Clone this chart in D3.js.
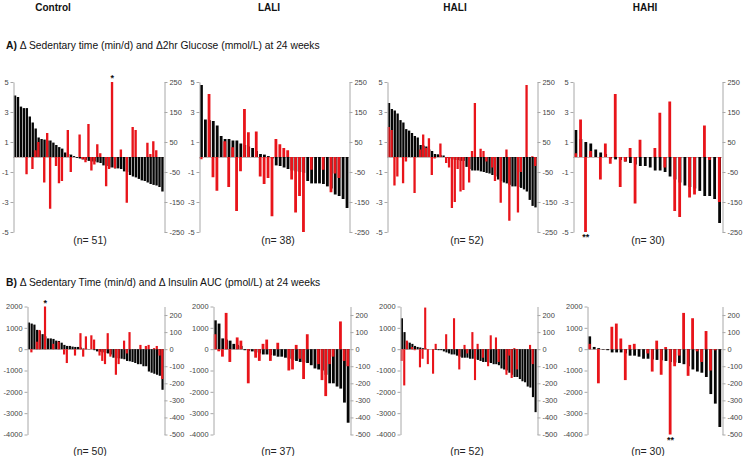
<!DOCTYPE html>
<html><head><meta charset="utf-8">
<script src="https://cdn.jsdelivr.net/npm/d3@7"></script>
<style>body{margin:0;background:#fff}svg{display:block}</style>
</head><body>
<svg id="c" width="745" height="456"></svg>
<script>
// ---------- DATA ----------
const groups = ["Control", "LALI", "HALI", "HAHI"];

// Row A: black = Δ sedentary time (min/d, right axis), red = Δ 2hr glucose (mmol/L, left axis)
const controlA_sedentary = [205,200,168,163,163,135,115,95,65,60,58,55,55,48,40,33,28,15,10,8,3,-3,-5,-8,-10,-13,-15,-15,-18,-20,-28,-30,-35,-35,-38,-38,-40,-48,-50,-60,-65,-68,-73,-78,-80,-85,-90,-93,-95,-100,-115];
const controlA_glucose = [0,0,0,0,-1.15,0,-0.8,0.45,1.0,0,-1.7,1.6,-3.45,0,-0.6,-1.75,-1.6,0,1.8,-1.0,0,0,1.5,-0.15,-0.35,2.2,-0.9,-0.5,0.85,0.25,0,-1.95,-0.8,5.0,-0.75,0,0.5,0,-3.05,0,2.0,1.8,0,0,0,0.95,0.2,1.05,0.45,0,0];
const laliA_sedentary = [240,125,123,120,105,70,60,60,55,55,45,40,35,30,20,10,8,3,-5,-28,-30,-35,-40,-45,-48,-50,-53,-80,-88,-88,-88,-90,-98,-105,-125,-130,-140,-170];
const laliA_glucose = [-0.15,0,4.2,-1.35,-2.25,0,1.05,-2.0,0.65,-3.6,-0.95,3.2,1.65,0,1.7,-1.3,-1.8,-1.4,-3.95,1.2,0.85,0.6,0.45,-1.5,-3.7,-2.6,-5.0,0,-0.85,0,0,-0.85,0,-2.35,-1.1,-1.4,0,0];
const haliA_sedentary = [180,160,155,145,123,115,93,88,80,70,65,40,38,35,25,20,10,9,6,5,-3,-5,-8,-10,-10,-13,-13,-33,-40,-45,-45,-45,-48,-50,-53,-55,-60,-65,-75,-80,-85,-88,-93,-98,-98,-100,-103,-108,-115,-143,-163,-168];
const haliA_glucose = [2.0,1.8,-1.9,-1.3,0,-1.75,-0.3,0,0,-2.4,0,0.5,1.5,0.6,1.25,-1.2,-0.1,0,0.9,0,-0.4,-0.7,-3.4,-3.0,-0.8,-2.3,-2.2,0,-1.7,0.4,3.6,0,0.55,0.4,-0.3,0,-0.7,-1.6,0,-3.05,0,0.5,-4.25,0,0,-3.7,-1.0,0,4.8,0,0.05,-0.6];
const hahiA_sedentary = [90,60,50,45,25,15,10,-5,-8,-10,-15,-20,-25,-30,-30,-35,-45,-45,-50,-65,-75,-85,-95,-100,-105,-113,-130,-130,-140,-220];
const hahiA_glucose = [0.25,2.5,-5.0,0.4,0,-1.5,0.9,-0.45,4.2,-2.0,-0.3,0.6,-3.1,1.15,0,0,0.6,2.95,-0.7,3.7,-3.6,-4.0,0,-2.7,-2.5,0,2.1,-0.2,0,-3.0];

// Row B: black = Δ sedentary time (min/d, right axis), red = Δ insulin AUC (pmol/L, left axis)
const controlB_sedentary = [156,150,144,113,106,88,75,63,63,60,50,48,38,25,19,19,15,13,13,10,4,3,1,0,-6,-13,-15,-19,-23,-25,-31,-50,-53,-54,-56,-59,-69,-71,-75,-81,-88,-88,-100,-100,-131,-138,-144,-150,-156,-238];
const controlB_insulin = [0,-150,0,350,900,0,2000,0,0,250,0,350,0,-250,-650,0,0,-300,0,750,-350,600,0,650,450,0,-300,-550,-700,750,-350,0,-1200,-700,0,400,-200,800,0,0,0,200,0,150,200,0,50,150,-300,-1400];
const laliB_sedentary = [169,150,63,56,50,31,25,19,-6,-10,-13,-19,-25,-31,-31,-35,-38,-44,-44,-50,-56,-63,-69,-75,-78,-81,-94,-113,-119,-125,-150,-200,-200,-219,-231,-313,-431];
const laliB_insulin = [700,-100,-350,1700,-600,0,550,400,0,-1600,0,-400,-550,250,450,-550,0,300,0,0,-1000,-950,200,-450,-1400,700,0,0,-700,-1450,-2200,-700,-350,0,1300,-550,-800];
const haliB_sedentary = [181,100,44,38,31,19,13,10,6,4,1,0,-3,-4,-6,-6,-13,-19,-25,-31,-31,-38,-44,-50,-50,-50,-56,-56,-60,-63,-69,-75,-75,-79,-81,-88,-88,-94,-113,-119,-125,-138,-150,-163,-163,-175,-188,-194,-219,-225,-281,-369];
const haliB_insulin = [-550,-1700,400,0,100,-50,0,-850,-450,1950,-700,0,-1150,250,0,0,0,700,0,0,1450,0,-950,0,200,-200,0,800,-1450,250,0,-400,0,-800,650,0,550,-600,0,0,-1200,-300,-1350,50,-950,0,0,0,0,200,-700,0];
const hahiB_sedentary = [75,13,6,-3,-6,-19,-19,-19,-25,-38,-38,-44,-56,-56,-60,-63,-65,-69,-75,-78,-81,-88,-100,-119,-131,-138,-163,-263,-319,-456];
const hahiB_insulin = [250,0,-1600,0,0,1050,1200,500,-1450,200,250,0,0,-200,-1050,400,-1200,100,-4000,-800,-300,1700,-1250,1450,-100,-600,850,-1000,-50,0];

// tick labels
const glucoseTicks = [5,3,1,-1,-3,-5];
const sedentaryTicksA = [250,150,50,-50,-150,-250];
const insulinTicks = [2000,1000,0,-1000,-2000,-3000,-4000];
const sedentaryTicksB = [200,100,0,-100,-200,-300,-400,-500];

// significance markers: [group index, bar index, label]
const starsA = [[0,33,"*"],[3,2,"**"]];
const starsB = [[0,6,"*"],[3,18,"**"]];

const titleA = "Δ Sedentary time (min/d) and Δ2hr Glucose (mmol/L) at 24 weeks";
const titleB = "Δ Sedentary Time (min/d) and Δ Insulin AUC (pmol/L) at 24 weeks";

// ---------- DRAW ----------
const svg = d3.select("#c");
const FONT = "'Liberation Sans', Arial, Helvetica, sans-serif";
const RED = "#e8141a", BLACK = "#050505", AXIS = "#a8a8a8", TXT = "#444";

const titleX = [53, 269, 455, 645];
const nX = [90, 278, 467, 648];

groups.forEach((g,i) => {
  svg.append("text").attr("x", titleX[i]).attr("y", 11).attr("text-anchor","middle")
    .attr("font-family", FONT).attr("font-weight","bold").attr("font-size", 10).attr("fill","#111").text(g);
});

function rowTitle(y, letter, txt){
  const t = svg.append("text").attr("x", 6).attr("y", y).attr("font-family", FONT).attr("font-size", 10.3).attr("fill","#111");
  t.append("tspan").attr("font-weight","bold").text(letter + " ");
  t.append("tspan").text(txt);
}
rowTitle(49, "A)", titleA);
rowTitle(286, "B)", titleB);

const fmt = d => String(d);

const rows = [
  { top: 82, bottom: 232, lDom: [-5,5], rDom: [-250,250], lTicks: glucoseTicks, rTicks: sedentaryTicksA,
    axes: [[13,164],[199,349],[387,537],[573,722]], nY: 244,
    sed: [controlA_sedentary, laliA_sedentary, haliA_sedentary, hahiA_sedentary],
    red: [controlA_glucose, laliA_glucose, haliA_glucose, hahiA_glucose], stars: starsA },
  { top: 306.5, bottom: 434.5, lDom: [-4000,2000], rDom: [-500,250], lTicks: insulinTicks, rTicks: sedentaryTicksB,
    axes: [[27,164],[213,350],[400,537],[587,722]], nY: 455,
    sed: [controlB_sedentary, laliB_sedentary, haliB_sedentary, hahiB_sedentary],
    red: [controlB_insulin, laliB_insulin, haliB_insulin, hahiB_insulin], stars: starsB }
];

rows.forEach(row => {
  row.axes.forEach((ax, gi) => {
    const [xl, xr] = ax;
    const yL = d3.scaleLinear().domain(row.lDom).range([row.bottom, row.top]);
    const yR = d3.scaleLinear().domain(row.rDom).range([row.bottom, row.top]);
    const sed = row.sed[gi], red = row.red[gi];
    const x = d3.scaleBand().domain(d3.range(sed.length)).range([xl + 0.8, xr - 0.3]).paddingInner(0.15).paddingOuter(0);
    const w = Math.min(x.step() * 0.8, 2.8);
    const cx = i => x(i) + x.bandwidth()/2;
    const gP = svg.append("g");

    // zero line
    gP.append("line").attr("x1", xl).attr("x2", xr).attr("y1", Math.round(yL(0))+0.5).attr("y2", Math.round(yL(0))+0.5)
      .attr("stroke", "#c4b4b4").attr("stroke-width", 1);

    gP.selectAll("rect.s").data(sed).join("rect").attr("class","s")
      .attr("x", (d,i) => cx(i) - w/2).attr("width", w)
      .attr("y", d => Math.min(yR(0), yR(d))).attr("height", d => Math.abs(yR(d) - yR(0)))
      .attr("fill", BLACK);
    gP.selectAll("rect.r").data(red).join("rect").attr("class","r")
      .attr("x", (d,i) => cx(i) - w/2 - 0.3).attr("width", w)
      .attr("y", d => Math.min(yL(0), yL(d))).attr("height", d => Math.abs(yL(d) - yL(0)))
      .attr("fill", RED);

    // axes
    const la = d3.axisLeft(yL).tickValues(row.lTicks).tickFormat(fmt).tickSize(3).tickSizeOuter(0).tickPadding(2);
    const ra = d3.axisRight(yR).tickValues(row.rTicks).tickFormat(fmt).tickSize(3).tickSizeOuter(0).tickPadding(2);
    const gl = svg.append("g").attr("transform", `translate(${Math.round(xl)+0.5},0)`).call(la);
    const gr = svg.append("g").attr("transform", `translate(${Math.round(xr)+0.5},0)`).call(ra);
    [gl, gr].forEach(g => {
      g.select(".domain").attr("stroke", AXIS);
      g.selectAll(".tick line").attr("stroke", AXIS);
      g.selectAll(".tick text").attr("font-family", FONT).attr("font-size", 7.4).attr("fill", TXT);
    });

    // n label
    svg.append("text").attr("x", nX[gi]).attr("y", row.nY).attr("text-anchor","middle")
      .attr("font-family", FONT).attr("font-size", 10.5).attr("fill", "#222").text(`(n= ${sed.length})`);

    // stars
    row.stars.filter(s => s[0] === gi).forEach(s => {
      const v = red[s[1]];
      const yy = v >= 0 ? yL(v) - 1 : yL(v) + 8;
      svg.append("text").attr("x", cx(s[1])).attr("y", yy).attr("text-anchor","middle")
        .attr("font-family", FONT).attr("font-weight","bold").attr("font-size", 9).attr("fill","#111").text(s[2]);
    });
  });
});
</script>
</body></html>
